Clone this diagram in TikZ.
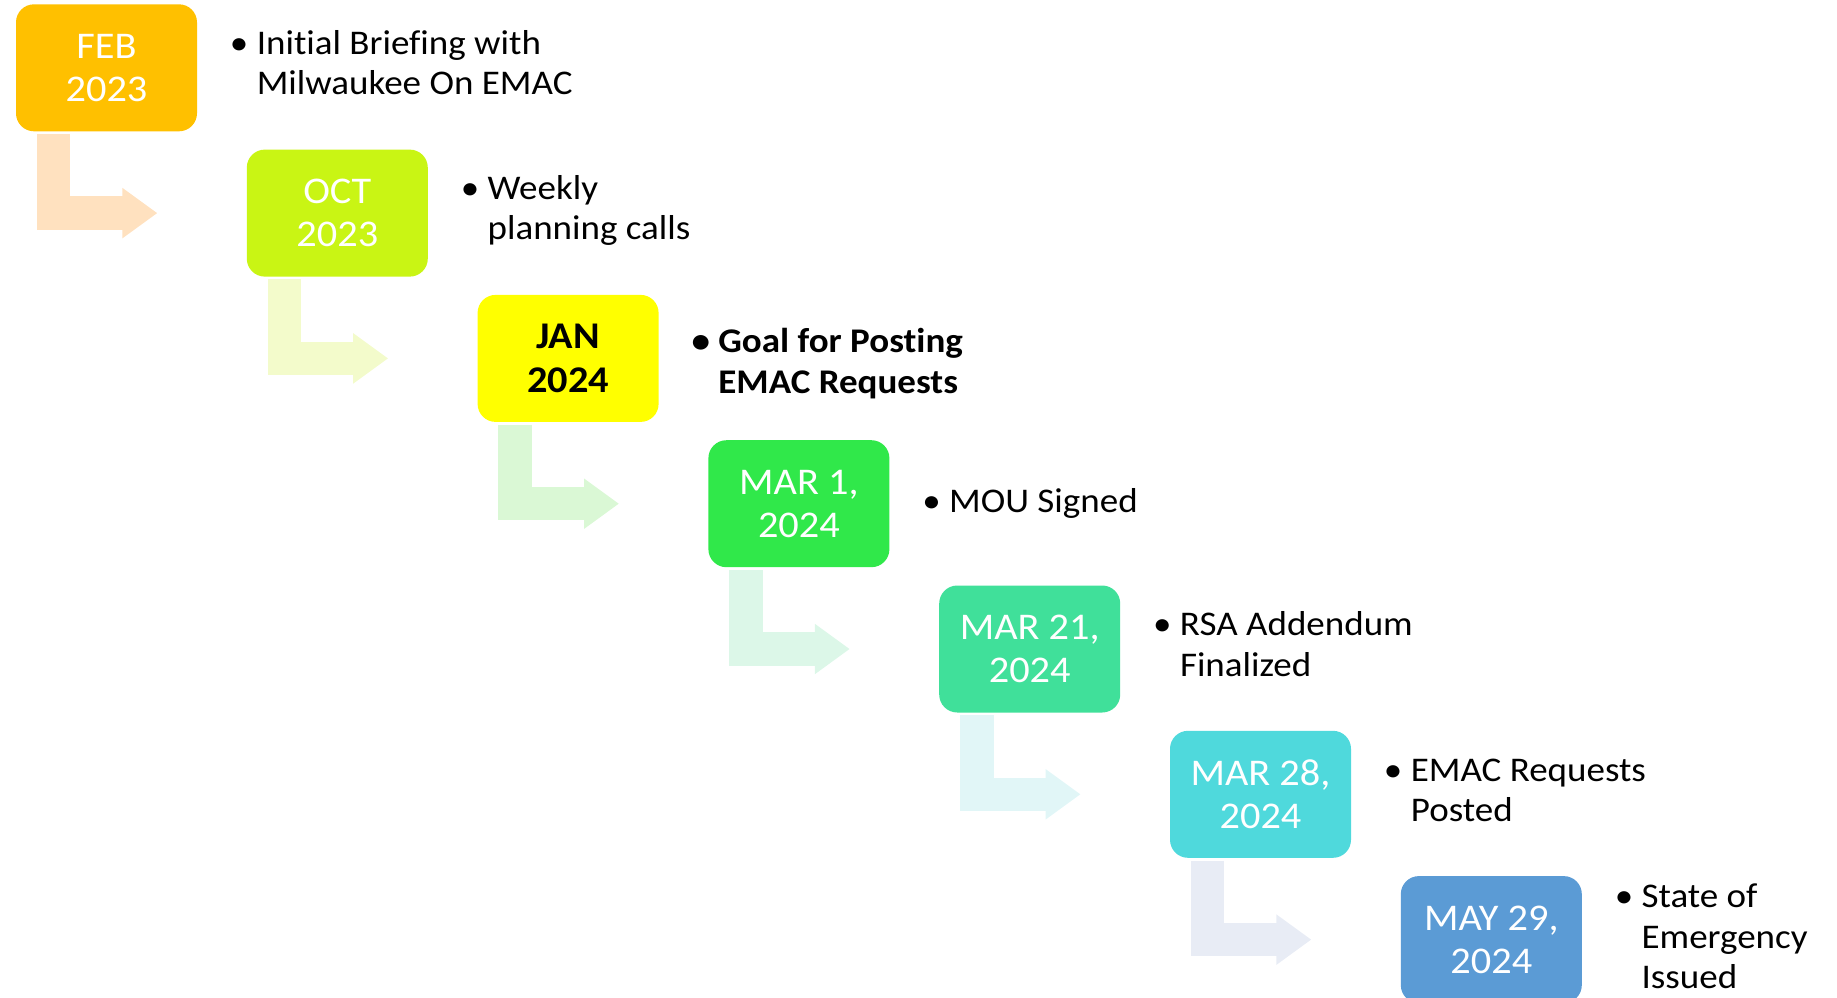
\documentclass[tikz,border=0pt]{standalone}
\usepackage{fontspec}
\setmainfont[FakeStretch = 1.07, Ligatures = NoCommon]{Carlito}
\usetikzlibrary{arrows.meta}

\definecolor{febc}{HTML}{FFC000}
\definecolor{octc}{HTML}{C9F514}
\definecolor{janc}{HTML}{FFFF00}
\definecolor{marac}{HTML}{30E84A}
\definecolor{marbc}{HTML}{40E09A}
\definecolor{marcc}{HTML}{4FD9DC}
\definecolor{mayc}{HTML}{5B9BD5}
\definecolor{arra}{HTML}{FFE1BF}
\definecolor{arrb}{HTML}{F3FBCB}
\definecolor{arrc}{HTML}{DAF8D5}
\definecolor{arrd}{HTML}{DCF7E8}
\definecolor{arre}{HTML}{E1F6F7}
\definecolor{arrf}{HTML}{E8ECF5}

\tikzset{
    datebox/.style = {rounded corners = 9pt, minimum width = 90.5pt, minimum height = 63.5pt,
        inner sep = 0, align = center, text = white,
        font = \fontsize{18.85pt}{21.7pt}\selectfont},
    note/.style = {anchor = west, inner sep = 0, align = left,
        font = \fontsize{17.3pt}{20.3pt}\selectfont},
    bent/.style = {line width = 16.75pt, line join = miter,
        -{Triangle[length = 17.5pt, width = 24pt]}},
}
\newcommand{\bul}{\llap{\textbullet\hspace{4.2pt}}}

\begin{document}
\begin{tikzpicture}[x = .5pt, y = -.5pt]
        \useasboundingbox (0, 0) rectangle (1837, 997);
        % date boxes
        \node [datebox, fill = febc] (feb) at (106.5, 67.8) {FEB\\2023};
        \node [datebox, fill = octc] (oct) at (337.3, 213.1) {OCT\\2023};
        \node [datebox, fill = janc, text = black, font = \fontsize{18.85pt}{21.7pt}\selectfont\bfseries] (jan) at (568.1, 358.4) {JAN\\2024};
        \node [datebox, fill = marac] (mara) at (798.9, 503.7) {MAR 1,\\2024};
        \node [datebox, fill = marbc] (marb) at (1029.7, 649) {MAR 21,\\2024};
        \node [datebox, fill = marcc] (marc) at (1260.5, 794.3) {MAR 28,\\2024};
        \node [datebox, fill = mayc] (may) at (1491.3, 939.6) {MAY 29,\\2024};
        % bent arrows
        \draw [bent, arra] ([xshift = 19pt, yshift = -1.2pt] feb.south west) |- ([xshift = -44.5pt] oct.west);
        \draw [bent, arrb] ([xshift = 19pt, yshift = -1.2pt] oct.south west) |- ([xshift = -44.5pt] jan.west);
        \draw [bent, arrc] ([xshift = 19pt, yshift = -1.2pt] jan.south west) |- ([xshift = -44.5pt] mara.west);
        \draw [bent, arrd] ([xshift = 19pt, yshift = -1.2pt] mara.south west) |- ([xshift = -44.5pt] marb.west);
        \draw [bent, arre] ([xshift = 19pt, yshift = -1.2pt] marb.south west) |- ([xshift = -44.5pt] marc.west);
        \draw [bent, arrf] ([xshift = 19pt, yshift = -1.2pt] marc.south west) |- ([xshift = -44.5pt] may.west);
        % notes
        \node [note] (tfeb) at ([xshift = 29.5pt, yshift = 2.5pt] feb.east) {\bul Initial Briefing with\\Milwaukee On EMAC};
        \node [note] (toct) at ([xshift = 29.5pt, yshift = 1.3pt] oct.east) {\bul Weekly\\planning calls};
        \node [note, font = \fontsize{17.3pt}{20.3pt}\selectfont\bfseries] (tjan) at ([xshift = 29.5pt, yshift = -2.7pt] jan.east) {\bul Goal for Posting\\EMAC Requests};
        \node [note] (tmara) at ([xshift = 29.5pt, yshift = .2pt] mara.east) {\bul MOU Signed};
        \node [note] (tmarb) at ([xshift = 29.5pt, yshift = 2.5pt] marb.east) {\bul RSA Addendum\\Finalized};
        \node [note] (tmarc) at ([xshift = 29.5pt, yshift = 2pt] marc.east) {\bul EMAC Requests\\Posted};
        \node [note] (tmay) at ([xshift = 29.5pt, yshift = 1.5pt] may.east) {\bul State of\\Emergency\\Issued};
    \end{tikzpicture}
\end{document}
